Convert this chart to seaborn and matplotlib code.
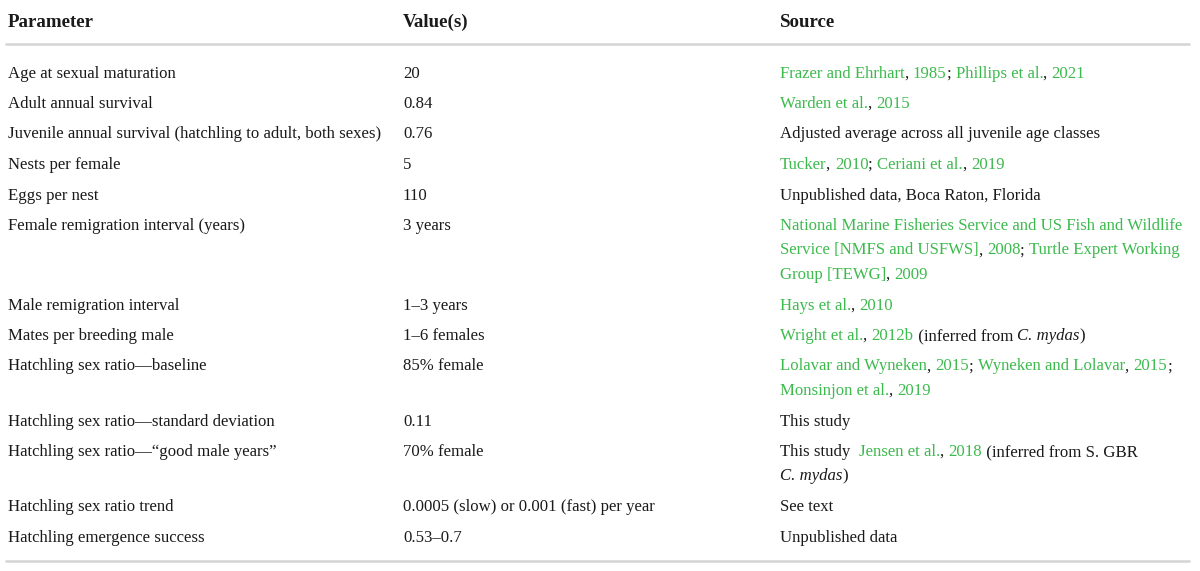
import matplotlib
matplotlib.use("Agg")
import matplotlib.pyplot as plt
import seaborn as sns

# table content
headers = ["Parameter", "Value(s)", "Source"]

parameters = [
    "Age at sexual maturation",
    "Adult annual survival",
    "Juvenile annual survival (hatchling to adult, both sexes)",
    "Nests per female",
    "Eggs per nest",
    "Female remigration interval (years)",
    "Male remigration interval",
    "Mates per breeding male",
    "Hatchling sex ratio\u2014baseline",
    "Hatchling sex ratio\u2014standard deviation",
    "Hatchling sex ratio\u2014\u201cgood male years\u201d",
    "Hatchling sex ratio trend",
    "Hatchling emergence success",
]

values = [
    "20", "0.84", "0.76", "5", "110", "3 years", "1\u20133 years",
    "1\u20136 females", "85% female", "0.11", "70% female",
    "0.0005 (slow) or 0.001 (fast) per year", "0.53\u20130.7",
]

# sources: each row is a list of lines, each line a list of (text, kind)
# kind: g = green citation link, k = plain, i = italic
sources = [
    [[("Frazer and Ehrhart", "g"), (", ", "k"), ("1985", "g"), ("; ", "k"),
      ("Phillips et al.", "g"), (", ", "k"), ("2021", "g")]],
    [[("Warden et al.", "g"), (", ", "k"), ("2015", "g")]],
    [[("Adjusted average across all juvenile age classes", "k")]],
    [[("Tucker", "g"), (", ", "k"), ("2010", "g"), ("; ", "k"),
      ("Ceriani et al.", "g"), (", ", "k"), ("2019", "g")]],
    [[("Unpublished data, Boca Raton, Florida", "k")]],
    [[("National Marine Fisheries Service and US Fish and Wildlife", "g")],
     [("Service [NMFS and USFWS]", "g"), (", ", "k"), ("2008", "g"), ("; ", "k"),
      ("Turtle Expert Working", "g")],
     [("Group [TEWG]", "g"), (", ", "k"), ("2009", "g")]],
    [[("Hays et al.", "g"), (", ", "k"), ("2010", "g")]],
    [[("Wright et al.", "g"), (", ", "k"), ("2012b", "g"), (" (inferred from ", "k"),
      ("C. mydas", "i"), (")", "k")]],
    [[("Lolavar and Wyneken", "g"), (", ", "k"), ("2015", "g"), ("; ", "k"),
      ("Wyneken and Lolavar", "g"), (", ", "k"), ("2015", "g"), (";", "k")],
     [("Monsinjon et al.", "g"), (", ", "k"), ("2019", "g")]],
    [[("This study", "k")]],
    [[("This study  ", "k"), ("Jensen et al.", "g"), (", ", "k"), ("2018", "g"),
      (" (inferred from S. GBR", "k")],
     [("C. mydas", "i"), (")", "k")]],
    [[("See text", "k")]],
    [[("Unpublished data", "k")]],
]

GREEN = "#3dba4e"
INK = "#1a1a1a"
RULE = "#d4d4d4"
FS = 12.1
HFS = 13.6

sns.set_theme(style="white")
plt.rcParams["font.family"] = ["Liberation Serif", "DejaVu Serif"]

fig = plt.figure(figsize=(12, 5.71), dpi=100)
ax = fig.add_axes([0, 0, 1, 1])
ax.set_xlim(0, 1200)
ax.set_ylim(571, 0)
ax.axis("off")

col_x = [8, 403, 780]
line_gap = 24.5
row_gap = 30.5

renderer = fig.canvas.get_renderer()


def text_width(text, style):
    # trailing marker so spaces are counted
    probe = ax.text(0, 0, text + "|", fontsize=FS, style=style)
    bar = ax.text(0, 0, "|", fontsize=FS, style=style)
    w = probe.get_window_extent(renderer).width - bar.get_window_extent(renderer).width
    probe.remove()
    bar.remove()
    return w * (1200 / fig.bbox.width)


def draw_runs(x, y, runs):
    for text, kind in runs:
        style = "italic" if kind == "i" else "normal"
        ax.text(x, y, text, va="baseline", ha="left", fontsize=FS,
                color=GREEN if kind == "g" else INK, style=style)
        x += text_width(text, style)


for h, cx in zip(headers, col_x):
    ax.text(cx, 26.7, h, va="baseline", ha="left", fontsize=HFS,
            fontweight="bold", color=INK)

ax.plot([5, 1190], [44.3, 44.3], color=RULE, lw=1.8, solid_capstyle="butt")

y = 77.5
for par, val, src in zip(parameters, values, sources):
    ax.text(col_x[0], y, par, va="baseline", ha="left", fontsize=FS, color=INK)
    ax.text(col_x[1], y, val, va="baseline", ha="left", fontsize=FS, color=INK)
    for i, line in enumerate(src):
        draw_runs(col_x[2], y + i * line_gap, line)
    y += (len(src) - 1) * line_gap + row_gap

ax.plot([5, 1190], [560.5, 560.5], color=RULE, lw=1.8, solid_capstyle="butt")

fig.savefig("out.png", dpi=100, facecolor="white")
